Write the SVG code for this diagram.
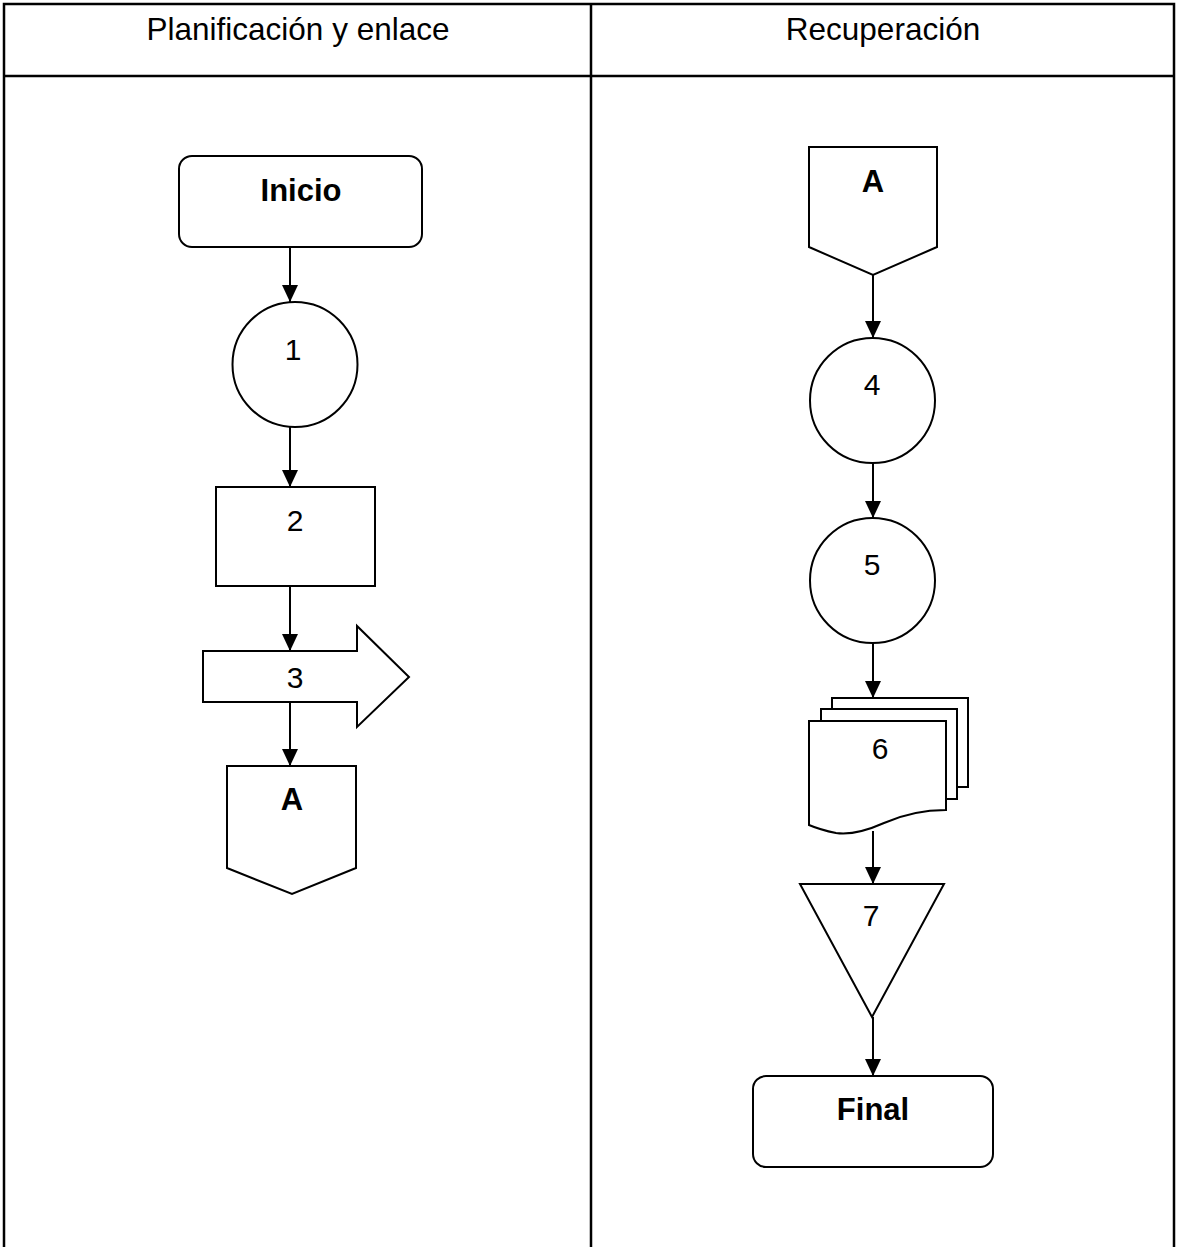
<svg xmlns="http://www.w3.org/2000/svg" width="1177" height="1247" viewBox="0 0 1177 1247">
<style>
.grid{stroke:#000;stroke-width:2.5;fill:none}
.shape{fill:#fff;stroke:#000;stroke-width:2}
.conn{stroke:#000;stroke-width:2;fill:none;marker-end:url(#ah)}
.hdr{font-family:"Liberation Sans",Arial,sans-serif;font-size:31.5px;text-anchor:middle;fill:#000}
.lbl{font-family:"Liberation Sans",Arial,sans-serif;font-size:30px;text-anchor:middle;fill:#000}
.bold{font-family:"Liberation Sans",Arial,sans-serif;font-size:31px;font-weight:bold;text-anchor:middle;fill:#000}
</style>
<defs>
<marker id="ah" markerUnits="userSpaceOnUse" markerWidth="18" markerHeight="18" viewBox="0 0 18 18" refX="17" refY="9" orient="auto">
<path d="M0,1 L17,9 L0,17 Z" fill="#000"/>
</marker>
</defs>
<rect width="1177" height="1247" fill="#fff"/>
<g id="table">
<path class="grid" d="M4,1250 L4,4 L1174,4 L1174,1250 M4,76 L1174,76 M591,4 L591,1250"/>
<text class="hdr" x="298" y="40">Planificación y enlace</text>
<text class="hdr" x="883" y="40">Recuperación</text>
</g>
<g id="connectors">
<line class="conn" x1="290" y1="247" x2="290" y2="302"/>
<line class="conn" x1="290" y1="427" x2="290" y2="487"/>
<line class="conn" x1="290" y1="586" x2="290" y2="651"/>
<line class="conn" x1="290" y1="702" x2="290" y2="766"/>
<line class="conn" x1="873" y1="275" x2="873" y2="338"/>
<line class="conn" x1="873" y1="463" x2="873" y2="518"/>
<line class="conn" x1="873" y1="643" x2="873" y2="698"/>
<line class="conn" x1="873" y1="831" x2="873" y2="884"/>
<line class="conn" x1="873" y1="1017" x2="873" y2="1076"/>
</g>
<g id="inicio">
<rect class="shape" x="179" y="156" width="243" height="91" rx="13"/>
<text class="bold" x="301" y="201">Inicio</text>
</g>
<g id="n1">
<circle class="shape" cx="295" cy="364.5" r="62.5"/>
<text class="lbl" x="293" y="360">1</text>
</g>
<g id="n2">
<rect class="shape" x="216" y="487" width="159" height="99"/>
<text class="lbl" x="295" y="531">2</text>
</g>
<g id="n3">
<path class="shape" d="M203,651 L357,651 L357,626 L409,677 L357,727 L357,702 L203,702 Z"/>
<text class="lbl" x="295" y="688">3</text>
</g>
<g id="offA1">
<path class="shape" d="M227,766 L356,766 L356,868 L292,894 L227,868 Z"/>
<text class="bold" x="292" y="810">A</text>
</g>
<g id="offA2">
<path class="shape" d="M809,147 L937,147 L937,247 L873,275 L809,247 Z"/>
<text class="bold" x="873" y="192">A</text>
</g>
<g id="n4">
<circle class="shape" cx="872.5" cy="400.5" r="62.5"/>
<text class="lbl" x="872" y="395">4</text>
</g>
<g id="n5">
<circle class="shape" cx="872.5" cy="580.5" r="62.5"/>
<text class="lbl" x="872" y="575">5</text>
</g>
<g id="n6">
<rect class="shape" x="832" y="698" width="136" height="89"/>
<rect class="shape" x="821" y="709" width="136" height="90"/>
<path class="shape" d="M809,721 L946,721 L946,810 C922,810 902,815 884,823 C866,831 850,835 836,833 C826,831 816,828 809,825 Z"/>
<text class="lbl" x="880" y="759">6</text>
</g>
<g id="n7">
<path class="shape" d="M800,884 L944,884 L872,1017 Z"/>
<text class="lbl" x="871" y="926">7</text>
</g>
<g id="final">
<rect class="shape" x="753" y="1076" width="240" height="91" rx="13"/>
<text class="bold" x="873" y="1120">Final</text>
</g>
</svg>
